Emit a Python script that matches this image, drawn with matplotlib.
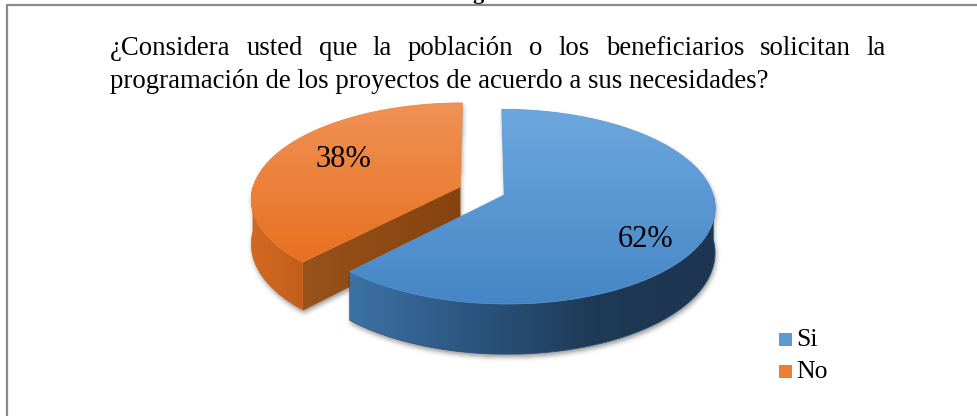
import numpy as np
import matplotlib
matplotlib.use("Agg")
import matplotlib.pyplot as plt
from matplotlib.patches import Polygon, Rectangle
from matplotlib.colors import LinearSegmentedColormap, to_rgb
from matplotlib.path import Path

# ---------------- data ----------------
labels = ["Si", "No"]
values = [62, 38]
pct_labels = ["62%", "38%"]
title_line1 = "¿Considera usted que la población o los beneficiarios solicitan la"
title_line2 = "programación de los proyectos de acuerdo a sus necesidades?"

top_colors = [["#6DA7DE", "#4686C6"], ["#F09256", "#E8701F"]]
wall_colors = [["#3D72A5", "#2B5580", "#1F3A56", "#1D3550"], ["#D36A22", "#C35E1B"]]
cut_colors = [["#2B5580", "#1F3A56"], ["#98521A", "#86430F"]]
legend_colors = ["#5B9BD5", "#ED7D31"]

SERIF = "Liberation Serif"
W, HPX = 977, 416

fig = plt.figure(figsize=(9.77, 4.16), dpi=100)
ax = fig.add_axes([0, 0, 1, 1])
ax.set_xlim(0, W)
ax.set_ylim(HPX, 0)
ax.axis("off")

# ---------------- projection ----------------
CX, CY = 482, 191
A, B, TH = 208, 95, 44
P = 0.119
EXPLODE = 0.114


def proj(X, Y, Z):
    s = 1.0 / (1.0 + P * Y)
    return CX + X * A * s, CY - Y * B * s + Z * TH * s


def arc_pts(ox, oy, t0, t1, Z, n=300):
    th = np.radians(np.linspace(t0, t1, n))
    x, y = proj(ox + np.cos(th), oy + np.sin(th), Z)
    return np.column_stack([x, y])


def grad_fill(xy, colors, direction, zorder):
    poly = Polygon(xy, closed=True, fc="none", ec="none")
    ax.add_patch(poly)
    x0, y0 = xy.min(0)
    x1, y1 = xy.max(0)
    cmap = LinearSegmentedColormap.from_list("g", colors)
    g = np.linspace(0, 1, 256)
    arr = g[:, None] if direction == "v" else g[None, :]
    im = ax.imshow(arr, cmap=cmap, extent=(x0, x1, y1, y0), origin="upper",
                   aspect="auto", zorder=zorder, interpolation="bilinear")
    im.set_clip_path(poly)
    mean = np.mean([to_rgb(c) for c in colors], axis=0)
    ax.add_patch(Polygon(xy, closed=True, fc="none", ec=mean, lw=0.5, zorder=zorder + 0.01))


# slice angles (start at 12 o'clock, clockwise)
total = float(sum(values))
angles = []
a0 = 90.0
for v in values:
    a1 = a0 - 360.0 * v / total
    angles.append((a0, a1))
    a0 = a1


def slice_polys(i):
    a0, a1 = angles[i]
    mid = np.radians((a0 + a1) / 2)
    ox, oy = EXPLODE * np.cos(mid), EXPLODE * np.sin(mid)
    c = np.array(proj(ox, oy, 0))
    cb = np.array(proj(ox, oy, 1))
    top = np.vstack([c, arc_pts(ox, oy, a0, a1, 0)])
    walls = []
    th = np.linspace(a0, a1, 600)
    vis = np.sin(np.radians(th)) < 0
    idx = np.where(vis)[0]
    if len(idx):
        runs = np.split(idx, np.where(np.diff(idx) > 1)[0] + 1)
        for r in runs:
            t0, t1 = th[r[0]], th[r[-1]]
            up = arc_pts(ox, oy, t0, t1, 0)
            dn = arc_pts(ox, oy, t0, t1, 1)[::-1]
            walls.append(np.vstack([up, dn]))
    cuts = []
    for a, nrm in ((a0, a0 + 90), (a1, a1 - 90)):
        if np.sin(np.radians(nrm)) < -1e-6:
            ar = np.radians(a)
            rt = np.array(proj(ox + np.cos(ar), oy + np.sin(ar), 0))
            rb = np.array(proj(ox + np.cos(ar), oy + np.sin(ar), 1))
            cuts.append(np.vstack([c, rt, rb, cb]))
    return top, walls, cuts


# pixel grid for soft shadows
gx, gy = np.meshgrid(np.arange(W) + 0.5, np.arange(HPX) + 0.5)
grid = np.column_stack([gx.ravel(), gy.ravel()])


def blur(img, sigma):
    r = int(3 * sigma)
    k = np.exp(-0.5 * (np.arange(-r, r + 1) / sigma) ** 2)
    k /= k.sum()
    img = np.apply_along_axis(lambda m: np.convolve(m, k, mode="same"), 0, img)
    img = np.apply_along_axis(lambda m: np.convolve(m, k, mode="same"), 1, img)
    return img


def draw_shadow(polys, zorder):
    mask = np.zeros(HPX * W, dtype=bool)
    for p in polys:
        mask |= Path(p).contains_points(grid)
    mask = mask.reshape(HPX, W).astype(float)
    mask = np.roll(mask, 3, axis=0)
    mask = np.roll(mask, 1, axis=1)
    m = blur(mask, 2.5)
    rgba = np.zeros((HPX, W, 4))
    rgba[..., :3] = 0.25
    rgba[..., 3] = np.clip(m, 0, 1) * 0.55
    ax.imshow(rgba, extent=(0, W, HPX, 0), origin="upper", aspect="auto",
              zorder=zorder, interpolation="nearest")


# draw orange (index 1) first, then blue (index 0)
z = 2
for i in (1, 0):
    top, walls, cuts = slice_polys(i)
    draw_shadow([top] + walls + cuts, z)
    for cp in cuts:
        grad_fill(cp, cut_colors[i], "h", z + 0.1)
    for wp in walls:
        grad_fill(wp, wall_colors[i], "h", z + 0.2)
    grad_fill(top, top_colors[i], "v", z + 0.3)
    z += 1

# percentage labels
label_pos = [(646, 247), (343, 167)]
for t, (x, y) in zip(pct_labels, label_pos):
    ax.text(x, y, t, fontsize=22, family=SERIF, ha="center", va="baseline", zorder=10)

# title (line 2 sets the size, line 1 is justified)
L, R1, R2 = 110, 886, 768
t2 = ax.text(L, 88, title_line2, fontsize=18, family=SERIF, ha="left", va="baseline", zorder=10)
fig.canvas.draw()
rend = fig.canvas.get_renderer()
w2 = t2.get_window_extent(rend).width
fs = 18 * (R2 - L) / w2
t2.set_fontsize(fs)
words = title_line1.split(" ")
wt = [ax.text(0, 55, w, fontsize=fs, family=SERIF, ha="left", va="baseline", zorder=10) for w in words]
fig.canvas.draw()
ws = [t.get_window_extent(rend).width for t in wt]
gap = (R1 - L - sum(ws)) / (len(words) - 1)
x = L
for t, w in zip(wt, ws):
    t.set_x(x)
    x += w + gap

# legend
for k, (lab, col) in enumerate(zip(labels, legend_colors)):
    yc = 339 + 32 * k
    ax.add_patch(Rectangle((779, yc - 6.5), 13, 13, fc=col, ec="none", zorder=10))
    ax.text(796, yc + 6.5, lab, fontsize=18.5, family=SERIF, ha="left", va="baseline", zorder=10)

# frame lines and clipped heading fragment
ax.plot([6, W], [5, 5], color="#8a8a8a", lw=1.6, zorder=11, solid_capstyle="butt")
ax.plot([6.7, 6.7], [5, HPX], color="#8a8a8a", lw=1.6, zorder=11, solid_capstyle="butt")
ax.text(478, -0.5, "g", fontsize=16, family=SERIF, weight="bold", ha="center", va="baseline")

ax.set_xlim(0, W)
ax.set_ylim(HPX, 0)
fig.savefig("out.png", dpi=100)
